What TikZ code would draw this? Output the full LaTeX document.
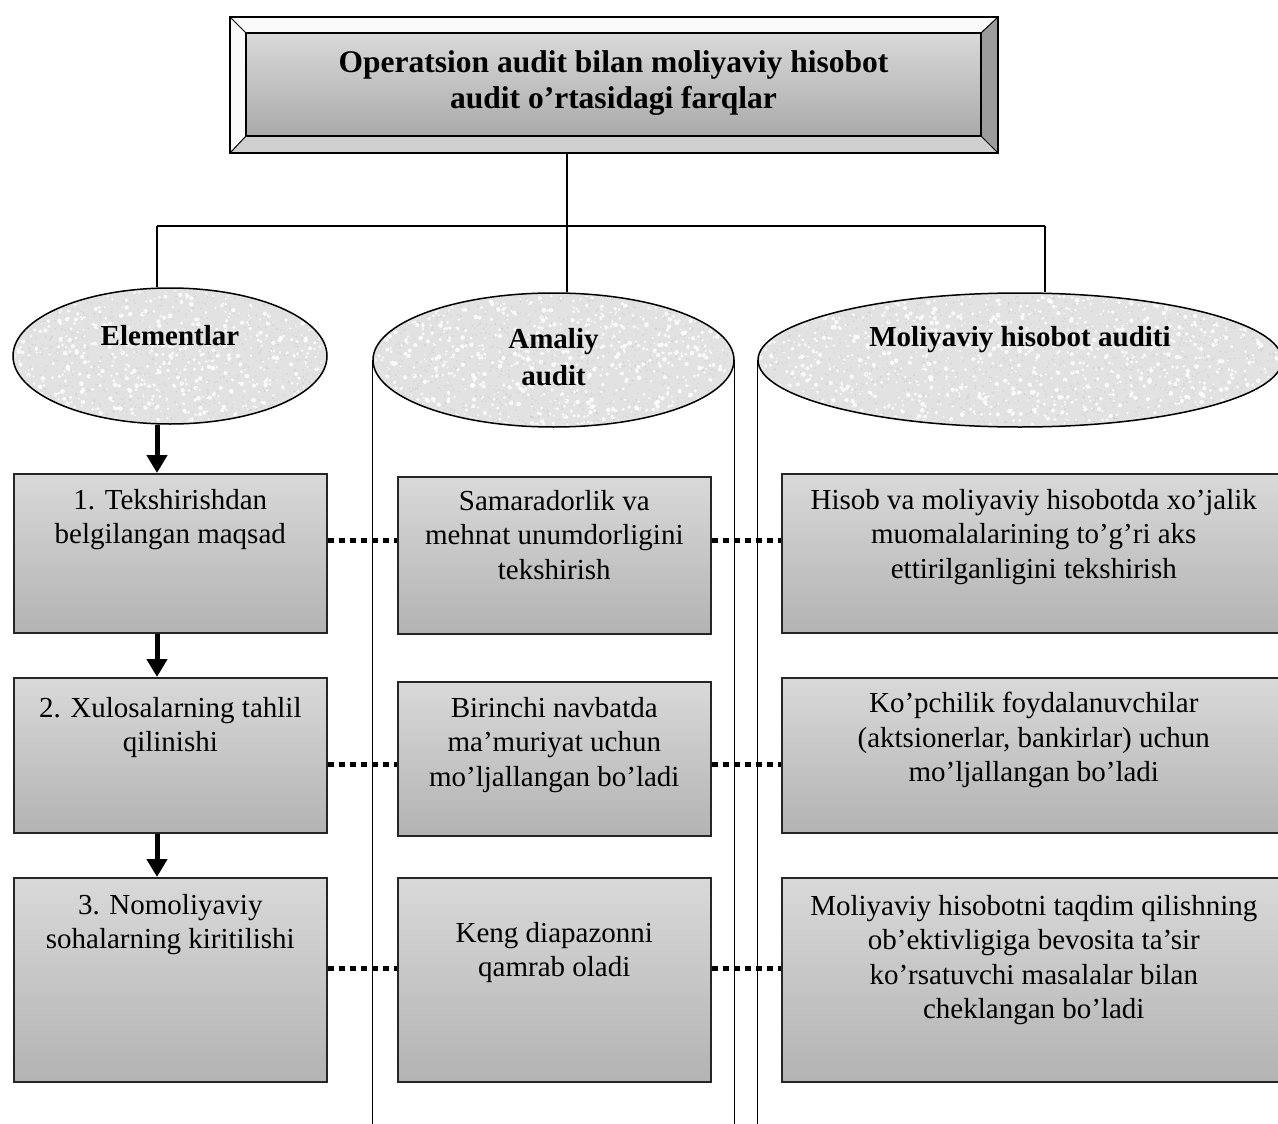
\documentclass[tikz,border=0pt]{standalone}
\usepackage{fontspec}
\setmainfont{Liberation Serif}
\usetikzlibrary{shapes.geometric,arrows.meta}
\definecolor{boxtop}{HTML}{D9D9D9}
\definecolor{boxbot}{HTML}{B3B3B3}
\definecolor{ellfill}{HTML}{E2E2E2}
\definecolor{bevlight}{HTML}{FAFAFA}
\definecolor{bevbot}{HTML}{D0D0D0}
\definecolor{bevright}{HTML}{9C9C9C}
\begin{document}
\begin{tikzpicture}[x=1pt,y=-1pt,
  box/.style={draw=black!85, line width=1.6pt, top color=boxtop, bottom color=boxbot,
              minimum width=313pt, anchor=north west, inner sep=0pt},
  txt/.style={font=\fontsize{29}{34.5}\selectfont, align=center, anchor=north, inner sep=0pt},
  ell/.style={ellipse, draw, line width=1.5pt, fill=ellfill, inner sep=0pt},
  etxt/.style={font=\fontsize{29}{37}\selectfont\bfseries, align=center, inner sep=0pt},
  arr/.style={line width=5pt, -{Triangle[width=20pt,length=18pt]}},
  dotsq/.style={line width=5pt, dash pattern=on 6pt off 5pt},
  tree/.style={line width=1.2pt},
  cyl/.style={line width=1.4pt}]
\useasboundingbox (0,0) rectangle (1278,1124);
\fill[white] (0,0) rectangle (1278,1124);
\clip (0,0) rectangle (1278,1124);
\pgfmathsetseed{4711}

% ---- title with bevel
\node[fill=bevlight, minimum width=768pt, minimum height=136pt, inner sep=0pt] (tout) at (614,85) {};
\node[minimum width=735pt, minimum height=103pt, inner sep=0pt] (tin) at (613.5,84.5) {};
\fill[bevbot] (tout.south west) -- (tout.south east) -- (tin.south east) -- (tin.south west) -- cycle;
\fill[bevright] (tout.north east) -- (tout.south east) -- (tin.south east) -- (tin.north east) -- cycle;
\draw[line width=1.5pt] (tout.north west) rectangle (tout.south east);
\draw[line width=1pt] (tout.north west) -- (tin.north west)
                      (tout.north east) -- (tin.north east)
                      (tout.south west) -- (tin.south west)
                      (tout.south east) -- (tin.south east);
\node[draw, line width=2pt, top color=boxtop, bottom color=boxbot!95!black,
      minimum width=735pt, minimum height=103pt, inner sep=0pt] (tbox) at (613.5,84.5) {};
\node[font=\fontsize{31.5}{36}\selectfont\bfseries, align=center, inner sep=0pt] (ttl) at (613.5,83)
  {Operatsion audit bilan moliyaviy hisobot\\audit o’rtasidagi farqlar};

% ---- helper coordinates
\coordinate (d1) at (157,226);
\coordinate (d2) at (567,226);
\coordinate (d3) at (1045,226);
\coordinate (ax) at (157,0);
\coordinate (bot) at (0,1124);

% ---- ellipses (granite-like fill)
\node[ell, minimum width=314pt, minimum height=136pt] (e1) at (170,356) {};
\node[ell, minimum width=361pt, minimum height=134pt] (e2) at (553.5,360) {};
\node[ell, minimum width=524pt, minimum height=134pt] (e3) at (1020,360) {};
\foreach \cx/\cy/\rx/\ry/\n in {170/356/155/66/700, 553.5/360/178.5/65/800, 1020/360/260/65/1100}{
  \begin{scope}
    \clip (\cx,\cy) ellipse ({\rx pt} and {\ry pt});
    \foreach \i in {1,...,\n}{
      \pgfmathsetmacro{\px}{\cx+rand*\rx}
      \pgfmathsetmacro{\py}{\cy+rand*\ry}
      \pgfmathsetmacro{\rr}{0.8+1.6*rnd}
      \fill[white, opacity=0.8] (\px,\py) circle ({\rr pt});
      \pgfmathsetmacro{\qx}{\cx+rand*\rx}
      \pgfmathsetmacro{\qy}{\cy+rand*\ry}
      \fill[gray!45, opacity=0.5] (\qx,\qy) circle (0.9pt);
    }
  \end{scope}
}
\node[etxt] (e1t) at (170,336) {Elementlar};
\node[etxt] (e2t) at (553.5,357) {Amaliy\\audit};
\node[etxt] (e3t) at (1020,340) {Moliyaviy hisobot auditi};

% ---- tree connectors
\draw[tree] (d2 |- tout.south) -- (d2);
\draw[tree] (d1) -- (d3);
\draw[tree] (d1) -- (d1 |- e1.north);
\draw[tree] (d2) -- (d2 |- e2.north);
\draw[tree] (d3) -- (d3 |- e3.north);

% ---- cylinder sides
\draw[cyl] (e2.west) -- (e2.west |- bot);
\draw[cyl] (e2.east) -- (e2.east |- bot);
\draw[cyl] (e3.west) -- (e3.west |- bot);

% ---- boxes
\node[box, minimum height=159pt] (bL1) at (13,473) {};
\node[box, minimum height=155pt] (bL2) at (13,677) {};
\node[box, minimum height=204pt] (bL3) at (13,877) {};
\node[box, minimum height=157pt] (bM1) at (397,476) {};
\node[box, minimum height=154pt] (bM2) at (397,681) {};
\node[box, minimum height=204pt] (bM3) at (397,877) {};
\node[box, minimum height=159pt, minimum width=504pt] (bR1) at (781,473) {};
\node[box, minimum height=155pt, minimum width=504pt] (bR2) at (781,677) {};
\node[box, minimum height=204pt, minimum width=504pt] (bR3) at (781,877) {};

\node[txt] (tL1) at (bL1.north |- 0,489) {1. Tekshirishdan\\belgilangan maqsad};
\node[txt] (tM1) at (bM1.north |- 0,490) {Samaradorlik va\\mehnat unumdorligini\\tekshirish};
\node[txt] (tR1) at (bR1.north |- 0,489) {Hisob va moliyaviy hisobotda xo’jalik\\muomalalarining to’g’ri aks\\ettirilganligini tekshirish};
\node[txt] (tL2) at (bL2.north |- 0,697) {2. Xulosalarning tahlil\\qilinishi};
\node[txt] (tM2) at (bM2.north |- 0,697) {Birinchi navbatda\\ma’muriyat uchun\\mo’ljallangan bo’ladi};
\node[txt] (tR2) at (bR2.north |- 0,692) {Ko’pchilik foydalanuvchilar\\(aktsionerlar, bankirlar) uchun\\mo’ljallangan bo’ladi};
\node[txt] (tL3) at (bL3.north |- 0,894) {3. Nomoliyaviy\\sohalarning kiritilishi};
\node[txt] (tM3) at (bM3.north |- 0,922) {Keng diapazonni\\qamrab oladi};
\node[txt] (tR3) at (bR3.north |- 0,895) {Moliyaviy hisobotni taqdim qilishning\\ob’ektivligiga bevosita ta’sir\\ko’rsatuvchi masalalar bilan\\cheklangan bo’ladi};

% ---- arrows
\draw[arr] (e1.south -| ax) -- (bL1.north -| ax);
\draw[arr] (bL1.south -| ax) -- (bL2.north -| ax);
\draw[arr] (bL2.south -| ax) -- (bL3.north -| ax);

% ---- dotted links
\draw[dotsq] (bL1.east |- 0,540) -- (bM1.west |- 0,540);
\draw[dotsq] (bM1.east |- 0,540) -- (bR1.west |- 0,540);
\draw[dotsq] (bL2.east |- 0,764) -- (bM2.west |- 0,764);
\draw[dotsq] (bM2.east |- 0,764) -- (bR2.west |- 0,764);
\draw[dotsq] (bL3.east |- 0,968) -- (bM3.west |- 0,968);
\draw[dotsq] (bM3.east |- 0,968) -- (bR3.west |- 0,968);
\end{tikzpicture}
\end{document}
